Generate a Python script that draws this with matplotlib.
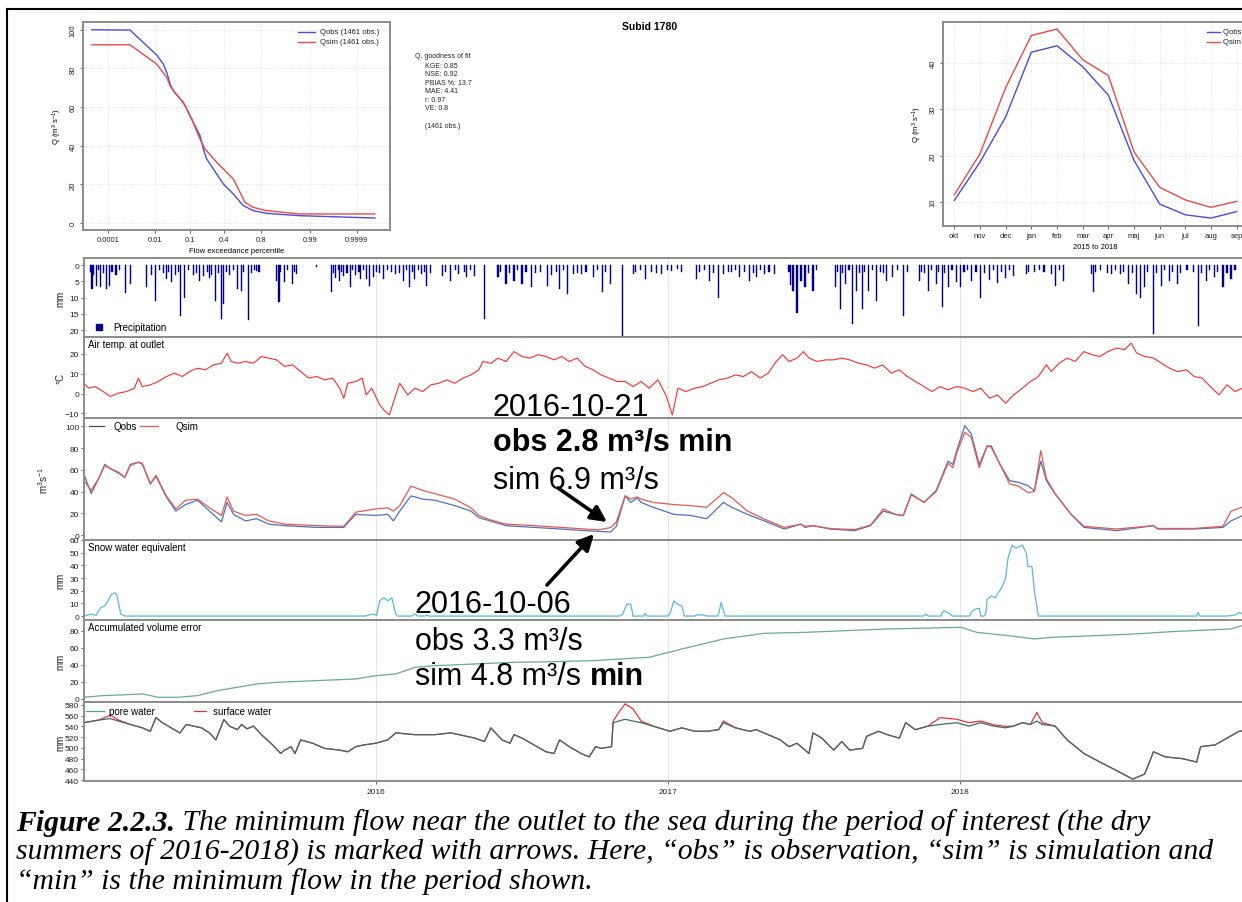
import numpy as np
import pandas as pd
import matplotlib
matplotlib.use("Agg")
import matplotlib.pyplot as plt
from matplotlib.lines import Line2D
from matplotlib.patches import FancyArrowPatch
from statistics import NormalDist

plt.rcParams['font.family'] = ['Liberation Sans', 'DejaVu Sans']
plt.rcParams['mathtext.fontset'] = 'custom'
plt.rcParams['mathtext.rm'] = 'Liberation Sans'
plt.rcParams['mathtext.it'] = 'Liberation Sans:italic'
plt.rcParams['mathtext.bf'] = 'Liberation Sans:bold'

# ---------------- data ----------------
# flow duration curve (exceedance probability, m3/s)
fdc_obs_p = [1.24e-5, 0.00107, 0.0116, 0.0192, 0.0244, 0.0307, 0.0383, 0.064, 0.0775,
             0.1107, 0.165, 0.191, 0.220, 0.318, 0.392, 0.510, 0.627, 0.734, 0.847,
             0.9784, 0.99999]
fdc_obs_q = [100, 99.8, 86.9, 82.2, 77.9, 71.9, 68.4, 63.3, 60.7, 53.8, 45.2, 38.3, 33.1,
             25.3, 20.2, 15, 9, 6.4, 5, 3.8, 2.6]
fdc_sim_p = [1.24e-5, 0.00107, 0.0116, 0.0244, 0.0307, 0.0383, 0.0705, 0.1107, 0.165,
             0.205, 0.318, 0.510, 0.646, 0.734, 0.847, 0.9784, 0.99999]
fdc_sim_q = [92.2, 92.2, 82.2, 75.3, 71, 68.4, 62.4, 53.8, 43.4, 38.3, 31.4, 22.8, 10.7,
             8.1, 6.4, 4.7, 4.7]
fdc_ticks = [0.0001, 0.01, 0.1, 0.4, 0.8, 0.99, 0.9999]
fdc_tick_labels = ["0.0001", "0.01", "0.1", "0.4", "0.8", "0.99", "0.9999"]

# mean monthly flow, hydrological year Oct-Sep
months = ["okt", "nov", "dec", "jan", "feb", "mar", "apr", "maj", "jun", "jul", "aug", "sep"]
mon_obs = [10.4, 18.6, 28.3, 42.2, 43.6, 39.1, 33.0, 19.0, 9.6, 7.3, 6.6, 8.0]
mon_sim = [11.6, 20.4, 34.6, 45.8, 47.2, 40.6, 37.2, 20.8, 13.2, 10.5, 8.9, 10.2]

gof_lines = ["KGE: 0.85", "NSE: 0.92", "PBIAS %: 13.7", "MAE: 4.41", "r: 0.97", "VE: 0.8"]
n_obs = 1461

# time series, day numbers counted from 2015-01-01
prec_days = [10, 16, 21, 28, 32, 52, 58, 78, 89, 103, 110, 121, 126, 137, 145, 150, 157,
             165, 172, 174, 192, 197, 206, 216, 241, 244, 251, 261, 266, 291, 310, 315,
             320, 325, 333, 340, 346, 353, 357, 362, 375, 390, 400, 407, 414, 422, 429,
             449, 459, 469, 479, 489, 501, 518, 528, 538, 548, 560, 580, 595, 605, 612,
             622, 637, 649, 659,
             674, 687, 702, 723, 735, 743, 766, 782, 794, 800, 810, 820, 833, 841, 851,
             864, 884, 887, 892, 897, 902, 912, 940, 946, 953, 961, 966, 974, 981, 992,
             1004, 1012, 1025, 1045, 1056, 1066, 1074, 1081, 1092, 1097, 1110, 1122,
             1133, 1143, 1153, 1163, 1179, 1189, 1210, 1215, 1225, 1261, 1263, 1286,
             1297, 1307, 1317, 1322, 1327, 1338, 1348, 1358, 1368, 1394, 1404, 1414,
             1425, 1435,
             8, 12, 18, 24, 35, 40, 44, 84, 95, 100, 106, 115, 118, 131, 141, 154, 160,
             168, 178, 182, 187, 200, 210, 213, 219, 246, 255, 263, 312, 318, 322, 329,
             336, 344, 350, 366, 370, 380, 385, 395, 403, 411, 418, 426, 433, 452, 465,
             476, 484, 521, 532, 542, 553, 565, 571, 585, 591, 600, 617, 628, 642, 652,
             690, 696, 710, 716, 730, 748, 770, 776, 788, 806, 815, 826, 838, 846, 857,
             882, 906, 916, 943, 949, 957, 970, 977, 986, 996, 1000, 1018, 1030, 1048,
             1052, 1060, 1069, 1077, 1086, 1101, 1105, 1116, 1127, 1138, 1148, 1158,
             1182, 1195, 1201, 1220, 1265, 1272, 1280, 1290, 1300, 1312, 1331, 1342,
             1352, 1362, 1372, 1380, 1388, 1398, 1408, 1418, 1430, 1440]
prec_mm = [7.4, 6.4, 6.9, 7.4, 6.4, 8.7, 5.8, 6.9, 11, 4.3, 5.3, 15.6, 10, 3, 4.8, 3.5, 4.1,
           11, 16.6, 12, 7.4, 7.9, 17, 1.7, 4.8, 11.5, 5.3, 5.8, 2.8, 0.7, 8.4, 4,
           5, 3.5, 6.9, 3, 4.2, 4.3, 6.4, 3.8, 4.3, 2.8, 4.8, 6.9, 4.3, 2.8, 6.4,
           3.3, 4.8, 2.8, 3.8, 3.3, 16.6, 3.8, 5.8, 4.8, 5.8, 6.9, 6.4, 7.4, 8.9, 2.8,
           2.8, 3.8, 8.4, 5.8,
           22.8, 2.8, 4.3, 2.8, 1.7, 1.2, 4.3, 4.8, 10, 2.8, 2.3, 3.8, 4.8, 3.8, 2.8,
           2.8, 6, 8, 14.6, 5, 6.9, 7.9, 6.9, 13.5, 5.8, 18.2, 7.9, 13.5, 7.9, 11,
           4.8, 3.8, 15.6, 4.8, 7.9, 5.8, 13, 6.9, 5.3, 6.9, 4.8, 10,
           4.5, 5.5, 4, 3.5, 2.8, 2.3, 2.8, 6.4, 4.8, 2.8, 8.4, 2.8,
           2.8, 5.8, 8.9, 10, 6.9, 21.2, 6.4, 4.8, 5.8, 18.7, 4.8, 3.8,
           6.9, 4.3,
           2, 3, 1.5, 2.5, 2, 3, 1.5, 3, 1.5, 2.5, 2, 3, 2, 1.5, 2.5, 2, 3,
           2.5, 2, 3, 1.5, 2, 2.5, 1.5, 2, 2, 1.5, 2, 2.5, 1.5, 2, 2.5,
           1.5, 2, 1.5, 2, 2.5, 1.5, 2, 2.5, 1.5, 2, 1.5, 2, 2.5, 2, 1.5,
           2, 1.5, 2, 2.5, 1.5, 2, 2.5, 2, 3, 2, 1.5, 2.5, 2, 1.5, 2,
           2, 1.5, 2, 2.5, 1.5, 2, 2, 1.5, 2.5, 2, 1.5, 2, 2.5, 1.5, 2,
           2, 2.5, 1.5, 2, 2.5, 1.5, 2.5, 2, 1.5, 2, 2.5, 1.5, 2, 2,
           2.5, 1.5, 2, 2.5, 1.5, 2, 1.5, 2, 2.5, 1.5, 2, 1.5,
           2, 1.5, 2, 1.5, 2, 1.5, 2.5, 1.5, 2, 2.5, 2, 2.5,
           1.5, 2, 2.5, 1.5, 2, 2.5, 1.5, 2, 2.5, 1.5]

temp_days = [0, 6, 14, 24, 33, 43, 53, 63, 68, 73, 83, 93, 103, 113, 123, 132, 142, 152,
             162, 172, 179, 184, 192, 202, 212, 222, 231, 241, 251, 261, 271, 281, 291,
             301, 311, 320, 325, 330, 340, 348, 353, 360, 370, 377, 382, 390, 395, 405,
             414, 424, 434, 444, 454, 464, 474, 484, 494, 499, 509, 518, 528, 538, 548,
             558, 568, 578, 588, 598, 607, 617, 627, 637, 647, 657, 667, 677, 687, 697,
             707, 718, 728, 736, 743, 753, 764, 774, 784, 794, 805, 815, 825, 835, 846,
             856, 866, 874, 882, 892, 900, 907, 917, 928, 938, 948, 958, 969, 979, 989,
             999, 1010, 1020, 1030, 1040, 1051, 1061, 1071, 1081, 1092, 1102, 1112, 1122,
             1133, 1143, 1153, 1163, 1174, 1184, 1194, 1204, 1210, 1220, 1230, 1240,
             1251, 1261, 1271, 1281, 1292, 1302, 1310, 1317, 1327, 1338, 1348, 1358,
             1368, 1379, 1389, 1399, 1409, 1420, 1430, 1440, 1449, 1460]
temp_c = [5.2, 2.7, 3.5, 1.0, -1.5, 0.2, 1.0, 2.7, 7.8, 3.5, 4.4, 6.1, 8.6, 10.3, 8.6, 11.1,
          12.8, 12.0, 14.5, 15.3, 20.4, 16.2, 15.3, 16.2, 15.3, 18.7, 17.9, 17.0, 13.7,
          14.5, 11.1, 7.8, 8.6, 6.9, 7.8, 2.7, -2.4, 5.2, 6.1, 7.8, -0.7, 2.7, -5.7, -9.1,
          -10.8, -0.7, 5.2, -0.7, 2.7, 1.0, 4.4, 5.2, 6.9, 5.2, 7.8, 9.4, 12.0, 16.2, 15.3,
          17.9, 16.2, 21.2, 18.7, 17.9, 19.6, 18.7, 17.0, 18.7, 16.2, 17.9, 13.7, 12.0,
          9.4, 7.8, 6.1, 6.1, 3.5, 6.1, 2.7, 6.9, -0.7, -10.8, 2.7, 1.0, 2.7, 3.5, 5.2,
          6.9, 7.8, 9.4, 8.6, 11.1, 7.8, 10.3, 16.2, 19.6, 16.2, 17.9, 21.2, 17.9, 16.2,
          17.0, 17.0, 17.9, 17.0, 15.3, 14.5, 12.8, 14.5, 10.3, 12.0, 8.6, 6.1, 3.5, 1.0,
          3.5, 1.9, 3.5, 2.7, 1.0, 2.7, -2.4, -0.7, -4.9, -0.7, 2.7, 6.1, 8.6, 14.5, 11.1,
          15.3, 17.9, 16.2, 21.2, 19.6, 18.7, 21.2, 23.0, 22.1, 25.5, 20.4, 18.7, 17.9,
          15.3, 12.8, 11.1, 12.0, 8.6, 7.8, 3.5, -0.7, 4.4, 1.0, 2.7, 2.0]

q_days = [0, 9, 19, 26, 33, 43, 51, 58, 68, 73, 83, 90, 103, 115, 127, 142, 157, 172, 179,
          187, 202, 216, 231, 251, 291, 325, 340, 365, 380, 387, 395, 409, 424, 439, 464,
          484, 494, 508, 528, 563, 597, 627, 644, 659, 666, 677, 684, 692, 697, 712, 738,
          759, 779, 800, 810, 830, 851, 876, 897, 902, 912, 933, 964, 984, 1000, 1015,
          1025, 1035, 1051, 1066, 1081, 1087, 1092, 1102, 1110, 1120, 1130, 1135, 1146,
          1158, 1169, 1181, 1189, 1197, 1204, 1215, 1235, 1251, 1292, 1338, 1343, 1389,
          1425, 1435, 1449, 1460]
q_obs = [56, 38, 53, 65, 61, 57, 53, 65, 67, 65, 47, 54, 35, 22, 28, 32, 22, 12, 30, 19, 13,
         15, 10, 8.6, 7, 7, 19, 18, 19, 13, 22, 36, 33, 32, 27, 22, 16, 13, 8.6, 7, 5.5, 4,
         3.3, 2.8, 8, 36, 30, 34, 30, 25.5, 19, 18, 15, 30, 25.5, 19, 13, 5.5, 10, 7, 8.6,
         5.5, 4, 8.6, 22, 19, 17.8, 37.7, 30, 40.8, 68, 65, 78, 100.6, 93, 65, 82, 82, 65,
         50, 48.5, 45.4, 40.8, 68, 50, 37.7, 19, 7, 4, 8.6, 5.5, 5.5, 7, 13, 17.8, 19]
q_sim = [50, 41, 53, 64, 61, 58, 53, 64, 67, 66, 47, 55, 36, 24, 32, 33, 25, 18, 35, 22, 18,
         19, 13, 10, 8.6, 8, 21, 24, 25, 22, 27, 45, 41, 38, 33, 25, 18, 14, 10, 8.6, 7, 5.5,
         4.8, 6.9, 12, 36, 33, 35, 33, 30, 28, 27, 25.5, 39, 34.6, 22, 14.7, 7, 10, 8, 8.6,
         6, 5, 9, 24, 19, 18, 37, 30, 40, 66, 62, 76, 94.5, 90, 62, 82, 80.7, 65, 47, 45,
         39, 40, 77.6, 52, 38, 19, 8, 5.5, 8.6, 6, 6, 8, 22, 25.5, 25]

snow_days = [0, 9, 15, 21, 26, 31, 34, 38, 41, 46, 51, 352, 356, 362, 366, 370, 375, 380,
             385, 390, 392, 410, 414, 418, 426, 429, 432, 670, 674, 679, 684, 687, 700, 702,
             705, 730, 733, 738, 743, 748, 751, 764, 766, 774, 779, 792, 794, 797, 802,
             1050, 1053, 1056, 1072, 1074, 1076, 1084, 1086, 1108, 1110, 1115, 1120, 1122,
             1126, 1128, 1130, 1135, 1140, 1148, 1153, 1156, 1161, 1166, 1174, 1179, 1181,
             1186, 1189, 1194, 1392, 1394, 1396, 1430, 1440, 1445, 1450, 1460]
snow_mm = [0, 1.6, 0.5, 6.8, 8, 13, 17, 18.4, 17, 1.6, 0, 0, 0.8, 1.6, 0.5, 12, 14.5, 12,
           14.5, 1.6, 0, 0, 1.6, 0, 0, 0.8, 0, 0, 1.6, 9.4, 9.4, 0, 0, 2, 0, 0, 1.6, 12,
           9.4, 8, 0, 0, 0.8, 1, 0, 0, 1.6, 10.6, 0, 0, 1.6, 0, 0, 2.9, 4.2, 1.6, 0, 0,
           2.9, 5.5, 6.2, 0, 0, 1.6, 13.2, 15.8, 14.5, 22.3, 30, 45.7, 56, 53.5, 56, 49.6,
           39, 39, 19.7, 0, 0, 2.9, 0, 0, 0.8, 2.9, 1.6, 1]

acc_days = [0, 23, 53, 73, 93, 118, 142, 167, 192, 216, 241, 291, 340, 365, 390, 414, 439,
            489, 538, 588, 637, 707, 748, 800, 851, 902, 953, 1005, 1056, 1097, 1117, 1158,
            1189, 1210, 1261, 1312, 1363, 1435, 1449, 1460]
acc_mm = [2, 3.9, 5, 5.9, 2, 2, 3.9, 9.8, 13.7, 17.6, 19.5, 21.5, 23.4, 27.3, 29.3, 37, 39,
          41, 43, 43.7, 44.9, 48.8, 58.5, 70.3, 76.9, 78, 80, 82, 83, 83.9, 78, 74, 70.3,
          72.2, 74, 76, 79, 82, 85.9, 86]

pore_days = [0, 19, 33, 43, 58, 73, 83, 90, 98, 113, 120, 128, 137, 147, 157, 165, 175,
             182, 192, 197, 204, 212, 222, 236, 246, 251, 259, 264, 271, 286, 301, 320,
             330, 340, 350, 365, 380, 390, 414, 439, 459, 489, 501, 509, 523, 533, 538,
             548, 563, 578, 588, 595, 607, 622, 632, 640, 647, 660, 662, 669, 677, 687,
             697, 712, 733, 748, 764, 779, 794, 800, 815, 833, 841, 861, 871, 882, 892,
             907, 912, 923, 938, 948, 958, 974, 979, 994, 1005, 1020, 1028, 1040, 1056,
             1071, 1092, 1107, 1122, 1138, 1153, 1163, 1174, 1184, 1192, 1199, 1215, 1230,
             1251, 1271, 1292, 1312, 1327, 1338, 1353, 1374, 1392, 1397, 1415, 1430, 1445,
             1460]
pore_mm = [547, 552, 554.6, 550, 543.7, 537.4, 531, 556.5, 547, 534, 528, 543.7, 540.6,
           537.4, 528, 515, 553, 540.6, 534, 543.7, 535.5, 540.6, 524.7, 505.6, 489.7, 496,
           502.4, 489.7, 515, 508.8, 499.2, 496, 492.9, 502.4, 505.6, 508.8, 515, 528,
           524.7, 524.7, 528, 518.3, 512, 537.4, 515, 508.8, 524.7, 518.3, 505.6, 492.9,
           489.7, 515, 502.4, 489.7, 483.3, 502.4, 499.2, 502.4, 547, 550, 553.3, 550, 547,
           540.6, 531, 537.4, 531, 531, 534, 547, 537.4, 531, 534, 521.5, 515, 502.4,
           508.8, 489.7, 528, 518.3, 496, 512, 496, 499.2, 521.5, 531, 524.7, 518.3, 547,
           534, 540.6, 543.7, 547, 540.6, 547, 540.6, 537.4, 540.6, 547, 543.7, 550, 543.7,
           540.6, 515, 489.7, 473.8, 457.9, 442, 451.5, 492.9, 483.3, 480.2, 473.8, 502.4,
           505.6, 518.3, 531, 533]
surf_mm = [547, 552, 561, 552, 543.7, 537.4, 531, 556.5, 547, 534, 528, 543.7, 540.6,
           537.4, 528, 515, 553, 540.6, 534, 543.7, 535.5, 540.6, 524.7, 505.6, 489.7, 496,
           502.4, 489.7, 515, 508.8, 499.2, 496, 492.9, 502.4, 505.6, 508.8, 515, 528,
           524.7, 524.7, 528, 518.3, 512, 537.4, 515, 508.8, 524.7, 518.3, 505.6, 492.9,
           489.7, 515, 502.4, 489.7, 483.3, 502.4, 499.2, 502.4, 550, 566, 582, 572.4, 550,
           540.6, 531, 537.4, 531, 531, 534, 550, 537.4, 531, 534, 521.5, 515, 502.4,
           508.8, 489.7, 528, 518.3, 496, 512, 496, 499.2, 521.5, 531, 524.7, 518.3, 547,
           534, 540.6, 556.5, 553.3, 547, 550, 543, 540, 540.6, 547, 543.7, 566, 547,
           540.6, 515, 489.7, 473.8, 457.9, 442, 451.5, 492.9, 483.3, 480.2, 473.8, 502.4,
           505.6, 518.3, 531, 533]

# ---------------- layout helpers ----------------
W, H = 1242, 903
fig = plt.figure(figsize=(W / 100, H / 100), dpi=100)


def px_axes(x0, y0, x1, y1):
    return fig.add_axes([x0 / W, 1 - y1 / H, (x1 - x0) / W, (y1 - y0) / H])


def ftext(x, y, s, **kw):
    return fig.text(x / W, 1 - y / H, s, **kw)


def fline(x0, x1, y0, y1, **kw):
    fig.add_artist(Line2D([x0 / W, x1 / W], [1 - y0 / H, 1 - y1 / H],
                          transform=fig.transFigure, **kw))


def farrow(x0, y0, x1, y1):
    fig.add_artist(FancyArrowPatch((x0 / W, 1 - y0 / H), (x1 / W, 1 - y1 / H),
                                   transform=fig.transFigure, arrowstyle="-|>",
                                   mutation_scale=24, lw=2.6, color="black",
                                   shrinkA=0, shrinkB=0, zorder=5))


FRAME = "#8c8c8c"
OBS_TOP = "#4b4bdc"
SIM_TOP = "#ec4848"


def style_top(ax):
    for s in ax.spines.values():
        s.set_color(FRAME)
        s.set_linewidth(1.4)
    ax.tick_params(direction="out", length=2.5, width=0.6, color="#444444",
                   labelsize=5.5, pad=2, labelcolor="#222222")
    ax.grid(True, color="#dcdcdc", lw=0.6, ls=":")
    ax.set_axisbelow(True)
    for lab in ax.get_yticklabels():
        lab.set_rotation(90)
        lab.set_va("center")


# ---------------- flow duration curve ----------------
_nd = NormalDist()
_ppf = np.vectorize(lambda p: _nd.inv_cdf(min(max(p, 1e-12), 1 - 1e-12)), otypes=[float])
_cdf = np.vectorize(lambda z: _nd.cdf(z), otypes=[float])

ax1 = px_axes(83, 23, 390, 231)
ax1.set_xscale("function", functions=(lambda p: _ppf(np.asarray(p, float)),
                                      lambda z: _cdf(np.asarray(z, float))))
ax1.plot(fdc_obs_p, fdc_obs_q, color=OBS_TOP, lw=1.0)
ax1.plot(fdc_sim_p, fdc_sim_q, color=SIM_TOP, lw=1.0)
ax1.set_xlim(_nd.cdf(-4.48), _nd.cdf(4.72))
ax1.set_ylim(-3.6, 104)
ax1.set_xticks(fdc_ticks)
ax1.set_xticklabels(fdc_tick_labels)
ax1.xaxis.set_minor_locator(matplotlib.ticker.NullLocator())
ax1.set_yticks([0, 20, 40, 60, 80, 100])
style_top(ax1)
ax1.set_xlabel("Flow exceedance percentile", fontsize=5.5, labelpad=3)
ax1.set_ylabel(r"Q (m$^3$ s$^{-1}$)", fontsize=5.5, labelpad=4)
for i, (lab, col) in enumerate([("Qobs (%d obs.)" % n_obs, OBS_TOP),
                                 ("Qsim (%d obs.)" % n_obs, SIM_TOP)]):
    yy = 33 + 10 * i
    fline(298, 315, yy, yy, color=col, lw=1.0)
    ftext(320, yy, lab, fontsize=5.5, va="center", color="#222222")

# ---------------- goodness of fit / title ----------------
ftext(650, 27, "Subid 1780", fontsize=7.5, fontweight="bold", ha="center", va="center")
ftext(415, 57, "Q, goodness of fit", fontsize=5, va="center", color="#222222")
for i, s in enumerate(gof_lines):
    ftext(425, 66 + 8.6 * i, s, fontsize=5, va="center", color="#222222")
ftext(425, 127, "(%d obs.)" % n_obs, fontsize=5, va="center", color="#222222")

# ---------------- monthly regime ----------------
ax2 = px_axes(943, 23, 1248, 227)
xm = np.arange(1, len(months) + 1)
ax2.plot(xm, mon_obs, color=OBS_TOP, lw=1.0)
ax2.plot(xm, mon_sim, color=SIM_TOP, lw=1.0)
ax2.set_xlim(0.56, 12.44)
ax2.set_ylim(4.9, 48.7)
ax2.set_xticks(xm)
ax2.set_xticklabels(months)
ax2.set_yticks([10, 20, 30, 40])
style_top(ax2)
ax2.set_xlabel("2015 to 2018", fontsize=5.5, labelpad=3)
ax2.set_ylabel(r"Q (m$^3$ s$^{-1}$)", fontsize=5.5, labelpad=4)
for i, (lab, col) in enumerate([("Qobs (%d obs.)" % n_obs, OBS_TOP),
                                 ("Qsim (%d obs.)" % n_obs, SIM_TOP)]):
    yy = 33 + 10 * i
    fline(1207, 1220, yy, yy, color=col, lw=1.0)
    ftext(1223, yy, lab, fontsize=5.5, va="center", color="#222222")

# ---------------- stacked time series ----------------
t0 = pd.Timestamp("2015-01-01")
tlim = (pd.Timestamp("2015-01-01"), pd.Timestamp("2018-12-31"))
years = [pd.Timestamp("2016-01-01"), pd.Timestamp("2017-01-01"), pd.Timestamp("2018-01-01")]


def to_dates(days):
    return t0 + pd.to_timedelta(np.asarray(days, float), unit="D")


bounds = [259.3, 338.3, 419.3, 541.0, 621.0, 702.7, 782.3]
XL, XR = 84, 1251
axes = [px_axes(XL, bounds[i], XR, bounds[i + 1]) for i in range(6)]


def style_panel(ax, ylim, yticks, ylabel, bottom=False, lab_x=65):
    ax.set_xlim(*tlim)
    ax.set_ylim(*ylim)
    ax.set_yticks(yticks)
    ax.set_xticks(years)
    for s in ax.spines.values():
        s.set_color(FRAME)
        s.set_linewidth(1.4)
    ax.tick_params(axis="y", direction="out", length=2.5, width=0.6, color="#444444",
                   labelsize=6, pad=1, labelcolor="#222222")
    ax.tick_params(axis="x", direction="out", length=2.5 if bottom else 0, width=0.6,
                   color="#444444", labelbottom=bottom, labelsize=6, pad=2,
                   labelcolor="#222222")
    if bottom:
        ax.set_xticklabels([str(d.year) for d in years])
    ax.grid(True, axis="x", color="#e4e4e4", lw=0.8)
    ax.set_axisbelow(True)
    ax.set_ylabel(ylabel, fontsize=7, color="#222222")
    ax.yaxis.set_label_coords((lab_x - XL) / (XR - XL), 0.5)


PREC = "#00008b"
ap, at, aq, asw, aacc, apw = axes

ap.bar(to_dates(prec_days), prec_mm, width=1.4, color=PREC, edgecolor=PREC, lw=0.3)
style_panel(ap, (22.2, -2.06), [0, 5, 10, 15, 20], "mm")
ap.plot([0.013], [0.13], transform=ap.transAxes, marker="s", ms=4, color=PREC, ls="none")
ap.text(0.025, 0.13, "Precipitation", transform=ap.transAxes, fontsize=7, va="center")

at.plot(to_dates(temp_days), temp_c, color="#ff2b2b", lw=0.8)
style_panel(at, (-12.5, 28.4), [-10, 0, 10, 20], "°C")
at.text(0.003, 0.975, "Air temp. at outlet", transform=at.transAxes, fontsize=7, va="top")

aq.plot(to_dates(q_days), q_obs, color="#4f6fc0", lw=0.9)
aq.plot(to_dates(q_days), q_sim, color="#e8594f", lw=0.9)
style_panel(aq, (-4.6, 107.4), [0, 20, 40, 60, 80, 100], r"m$^3$s$^{-1}$", lab_x=50)
fline(89, 104, 427, 427, color="#4a4a6a", lw=0.9)
ftext(113, 427, "Qobs", fontsize=7, va="center")
fline(140, 158, 427, 427, color="#e8594f", lw=0.9)
ftext(176, 427, "Qsim", fontsize=7, va="center")

asw.plot(to_dates(snow_days), snow_mm, color="#5ab7e3", lw=0.9)
style_panel(asw, (-3.1, 60.0), [0, 10, 20, 30, 40, 50, 60], "mm")
asw.text(0.003, 0.975, "Snow water equivalent", transform=asw.transAxes, fontsize=7,
         va="top")

aacc.plot(to_dates(acc_days), acc_mm, color="#6aa89b", lw=0.9)
style_panel(aacc, (-3.2, 92.5), [0, 20, 40, 60, 80], "mm")
aacc.text(0.003, 0.975, "Accumulated volume error", transform=aacc.transAxes, fontsize=7,
          va="top")

apw.plot(to_dates(pore_days), surf_mm, color="#e8303a", lw=0.9)
apw.plot(to_dates(pore_days), pore_mm, color="#3d6e62", lw=0.9)
style_panel(apw, (438, 586), [440, 460, 480, 500, 520, 540, 560, 580], "mm", bottom=True)
fline(86, 104, 712, 712, color="#4aa58f", lw=0.9)
ftext(109, 712, "pore water", fontsize=7, va="center")
fline(194, 206, 712, 712, color="#e8303a", lw=0.9)
ftext(213, 712, "surface water", fontsize=7, va="center")

# ---------------- minimum-flow annotations ----------------
big = dict(fontsize=22, color="black", va="baseline", zorder=6)
ftext(493, 416, "2016-10-21", **big)
ftext(493, 451, "obs 2.8 m³/s min", fontweight="bold", **big)
ftext(493, 489, "sim 6.9 m³/s", **big)
ftext(415, 613, "2016-10-06", **big)
ftext(415, 650, "obs 3.3 m³/s", **big)
t_sim = ftext(415, 685, "sim 4.8 m³/s ", **big)

farrow(558, 489, 607, 523)
farrow(547, 586, 594, 535)

# ---------------- caption ----------------
cap_kw = dict(fontsize=21.4, family="Liberation Serif", style="italic", va="baseline")
t_fig = ftext(16, 831, "Figure 2.2.3.", fontweight="bold", **cap_kw)
ftext(16, 860, "summers of 2016-2018) is marked with arrows. Here, \u201cobs\u201d is "
      "observation, \u201csim\u201d is simulation and", **cap_kw)
ftext(16, 889, "\u201cmin\u201d is the minimum flow in the period shown.", **cap_kw)

renderer = fig.canvas.get_renderer()
bb = t_fig.get_window_extent(renderer)
ftext(bb.x1, 831, " The minimum flow near the outlet to the sea during the period of "
      "interest (the dry", **cap_kw)
bb2 = t_sim.get_window_extent(renderer)
ftext(bb2.x1, 685, "min", fontweight="bold", **big)

# page frame
fline(7, W, 10, 10, color="black", lw=1.5)
fline(7, 7, 10, H, color="black", lw=1.5)

fig.savefig("out.png", dpi=100)
